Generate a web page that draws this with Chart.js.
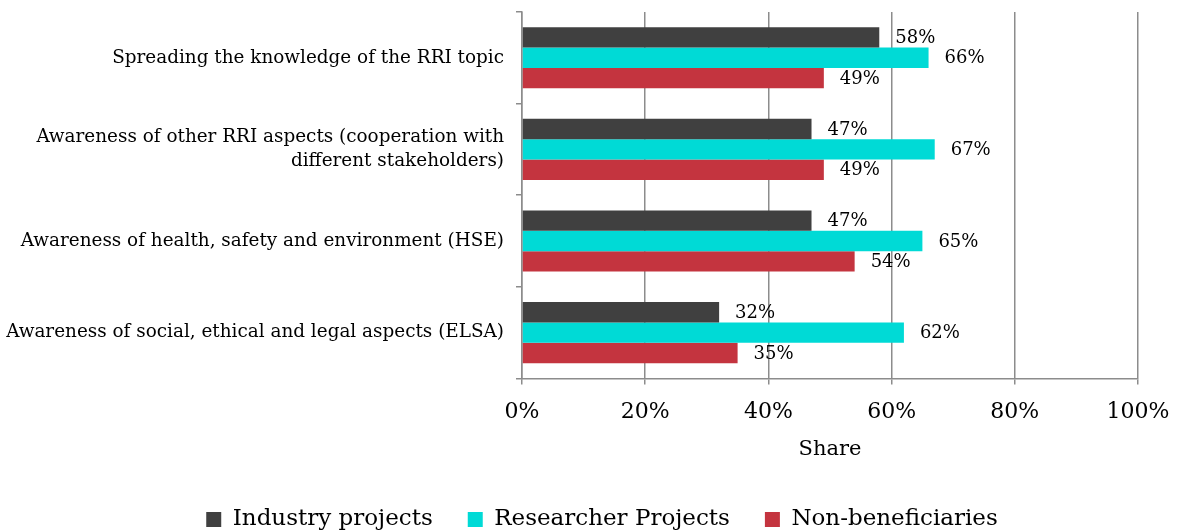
<!DOCTYPE html>
<html>
<head>
<meta charset="utf-8">
<script src="https://cdn.jsdelivr.net/npm/chart.js@4"></script>
<style>
  html, body { margin: 0; padding: 0; background: #fff; }
  #wrap { width: 1178px; height: 532px; }
</style>
</head>
<body>
<div id="wrap"><canvas id="chart"></canvas></div>
<script>
const categories = [
  "Spreading the knowledge of the RRI topic",
  ["Awareness of other RRI aspects (cooperation with", "different stakeholders)"],
  "Awareness of health, safety and environment (HSE)",
  "Awareness of social, ethical and legal aspects (ELSA)"
];
const industryProjects = [0.58, 0.47, 0.47, 0.32];
const researcherProjects = [0.66, 0.67, 0.65, 0.62];
const nonBeneficiaries = [0.49, 0.49, 0.54, 0.35];
const xTicks = [0, 0.2, 0.4, 0.6, 0.8, 1];

const FONT = "'DejaVu Serif', Georgia, serif";
const GRID = "#8c8c8c";

// draw value labels just past the end of each bar
const valueLabels = {
  id: "valueLabels",
  afterDatasetsDraw(chart) {
    const ctx = chart.ctx;
    ctx.save();
    ctx.font = "18px " + FONT;
    ctx.fillStyle = "#000";
    ctx.textBaseline = "middle";
    ctx.textAlign = "left";
    chart.data.datasets.forEach((ds, i) => {
      chart.getDatasetMeta(i).data.forEach((bar, j) => {
        ctx.fillText(Math.round(ds.data[j] * 100) + "%", bar.x + 16, bar.y + 1);
      });
    });
    ctx.restore();
  }
};

// legend sits a little right of centre in the original
const legendShift = {
  id: "legendShift",
  afterLayout(chart) {
    chart.legend.left += 33;
    chart.legend.right += 33;
  }
};

new Chart(document.getElementById("chart"), {
  type: "bar",
  data: {
    labels: categories,
    datasets: [
      { label: "Industry projects", data: industryProjects, backgroundColor: "#404040" },
      { label: "Researcher Projects", data: researcherProjects, backgroundColor: "#00dad6" },
      { label: "Non-beneficiaries", data: nonBeneficiaries, backgroundColor: "#c4343f" }
    ]
  },
  options: {
    indexAxis: "y",
    responsive: true,
    maintainAspectRatio: false,
    animation: false,
    layout: { padding: { top: 12, right: 40, bottom: -9 } },
    datasets: { bar: { categoryPercentage: 0.667, barPercentage: 1 } },
    plugins: {
      legend: {
        position: "bottom",
        labels: {
          font: { family: FONT, size: 23 },
          color: "#000",
          boxWidth: 15,
          boxHeight: 15,
          padding: 35
        }
      },
      tooltip: { enabled: false }
    },
    scales: {
      x: {
        min: 0,
        max: 1,
        afterBuildTicks: (axis) => { axis.ticks = xTicks.map(v => ({ value: v })); },
        afterFit: (axis) => { axis.paddingRight = 0; },
        ticks: {
          font: { family: FONT, size: 22 },
          color: "#000",
          padding: 15,
          callback: (v) => Math.round(v * 100) + "%"
        },
        grid: { color: GRID, lineWidth: 1.5, tickLength: 6 },
        border: { color: GRID, width: 1.5 },
        title: {
          display: true,
          text: "Share",
          font: { family: FONT, size: 21 },
          color: "#000",
          padding: { top: -4, bottom: 11 }
        }
      },
      y: {
        afterFit: (axis) => { axis.width = 522; axis.paddingTop = 0; axis.paddingBottom = 0; },
        ticks: {
          font: { family: FONT, size: 18.4, lineHeight: 1.3 },
          color: "#000",
          padding: 12
        },
        grid: { drawOnChartArea: false, color: GRID, lineWidth: 1.5, tickLength: 6, offset: true },
        border: { color: GRID, width: 1.5 }
      }
    }
  },
  plugins: [valueLabels, legendShift]
});
</script>
</body>
</html>
